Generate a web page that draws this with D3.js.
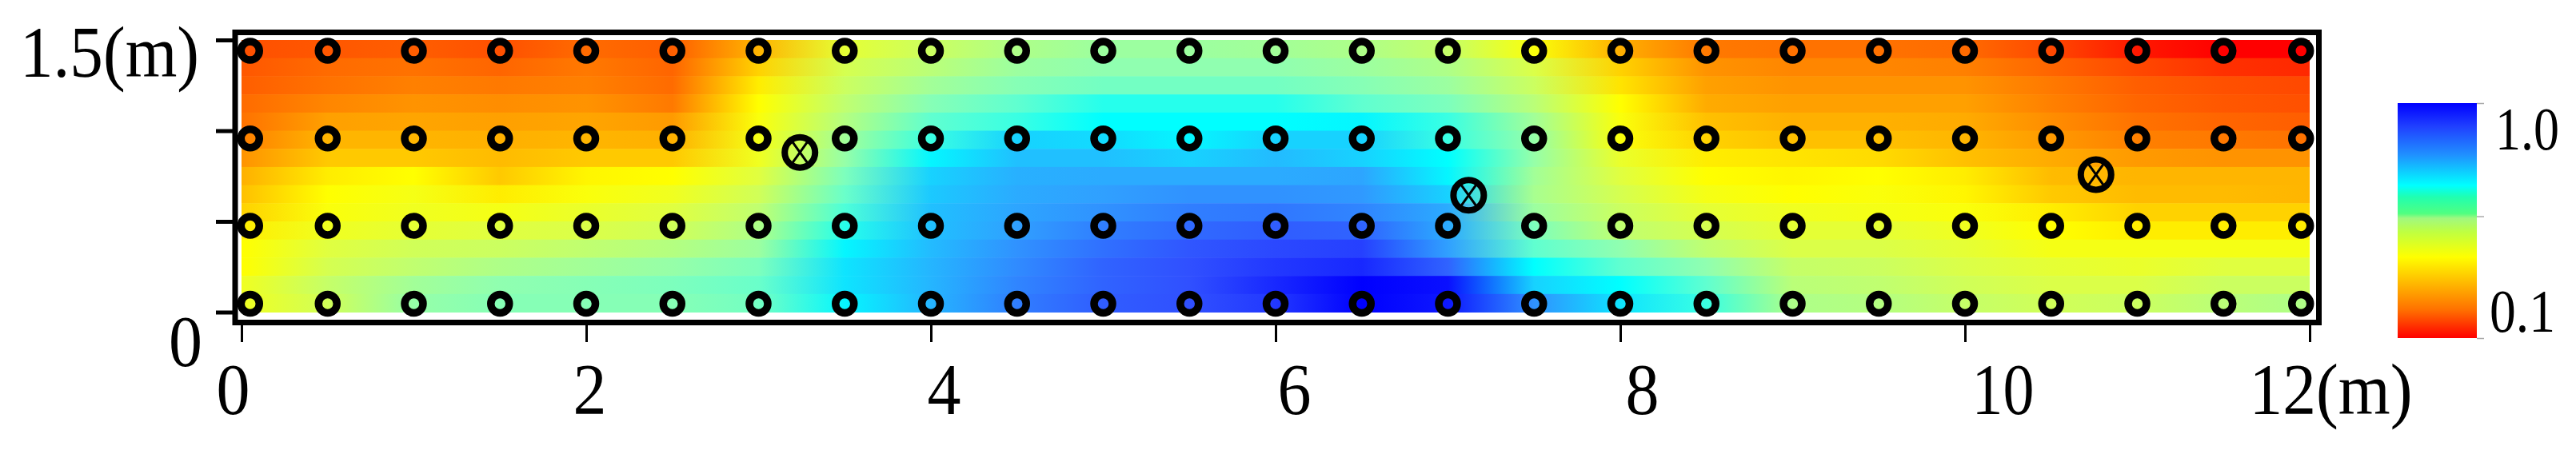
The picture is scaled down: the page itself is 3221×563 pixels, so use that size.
<!DOCTYPE html>
<html>
<head>
<meta charset="utf-8">
<script src="https://cdn.jsdelivr.net/npm/d3@7"></script>
<style>
  html, body { margin: 0; background: #fff; }
  svg { display: block; }
  text { font-family: "Liberation Serif", serif; fill: #000; }
</style>
</head>
<body>
<div id="chart"></div>
<script>
// metres along the section, one value per column of the table below
const colX = [0, 0.5, 1, 1.5, 2, 2.5, 3, 3.5, 4, 4.5, 5, 5.5, 6, 6.5, 7, 7.5, 8, 8.5, 9, 9.5, 10, 10.5, 11, 11.5, 12];
// upper edge of each band, metres
const rowTop = [1.5, 1.4, 1.3, 1.2, 1.1, 1.0, 0.9, 0.8, 0.7, 0.6, 0.5, 0.4, 0.3, 0.2, 0.1];

// position on the colour bar in percent, 0 = 0.1 (red), 100 = 1.0 (blue)
const r01 = [10, 11, 12, 10, 14, 12, 26, 40, 45, 50, 53, 53, 52, 50, 46, 36, 25, 16, 15, 15, 14, 9, 3, 0, 0];
const r02 = [11, 14, 15, 13, 16, 13, 30, 43, 48, 53, 55, 55, 55, 53, 50, 42, 30, 20, 18, 18, 17, 13, 9, 6, 5];
const r03 = [12, 15, 17, 16, 17, 14, 33, 45, 52, 56, 58, 58, 58, 56, 53, 45, 32, 22, 20, 20, 20, 16, 12, 10, 9];
const r04 = [14, 18, 20, 19, 20, 16, 35, 47, 56, 60, 63, 63, 63, 60, 57, 48, 35, 24, 22, 22, 22, 17, 13, 11, 10];
const r05 = [15, 22, 23, 22, 23, 21, 36, 49, 60, 62, 65, 65, 65, 66, 62, 52, 36, 28, 25, 25, 24, 19, 15, 13, 12];
const r06 = [17, 26, 26, 25, 26, 25, 37, 52, 62, 70, 69, 66, 70, 70, 62, 54, 36, 30, 28, 28, 26, 21, 17, 16, 15];
const r07 = [20, 29, 29, 27, 29, 29, 38, 54, 66, 72, 72, 70, 73, 70, 65, 54, 39, 33, 32, 31, 28, 24, 21, 20, 20];
const r08 = [25, 33, 35, 29, 34, 35, 41, 57, 70, 75, 76, 76, 76, 77, 66, 52, 41, 35, 34, 35, 33, 27, 26, 26, 26];
const r09 = [28, 35, 37, 33, 36, 38, 44, 59, 71, 76, 78, 80, 80, 79, 70, 51, 43, 37, 35, 36, 34, 29, 27, 27, 26];
const r10 = [30, 36, 38, 37, 39, 41, 47, 61, 72, 77, 80, 83, 84, 82, 76, 53, 45, 40, 38, 37, 36, 33, 30, 30, 30];
const r11 = [33, 38, 40, 41, 42, 44, 50, 63, 72, 78, 83, 86, 88, 87, 76, 57, 47, 43, 40, 40, 38, 35, 33, 33, 33];
const r12 = [35, 41, 44, 45, 47, 49, 53, 66, 73, 80, 85, 89, 91, 92, 78, 60, 55, 47, 42, 42, 40, 37, 37, 37, 37];
const r13 = [35, 43, 47, 50, 52, 54, 57, 68, 74, 81, 87, 90, 93, 95, 87, 65, 60, 55, 46, 45, 42, 40, 39, 41, 41];
const r14 = [38, 46, 52, 55, 56, 57, 59, 68, 74, 82, 87, 90, 95, 100, 98, 70, 65, 60, 48, 47, 44, 42, 42, 45, 45];
const r15 = [38, 44, 54, 56, 56, 56, 58, 66, 74, 83, 88, 90, 93, 100, 97, 80, 68, 62, 50, 49, 46, 44, 45, 48, 50];
const levels = [r01, r02, r03, r04, r05, r06, r07, r08, r09, r10, r11, r12, r13, r14, r15];

// sensor grid
const sensorX = [0.05, 0.5, 1, 1.5, 2, 2.5, 3, 3.5, 4, 4.5, 5, 5.5, 6, 6.5, 7, 7.5, 8, 8.5, 9, 9.5, 10, 10.5, 11, 11.5, 11.95];
const sensorY = [1.44, 0.957, 0.476, 0.046];
// crossed markers
const crossX = [3.24, 7.12, 10.76];
const crossY = [0.88, 0.644, 0.758];

const xTicks = [0, 2, 4, 6, 8, 10, 12];
const xTickLabels = ["0", "2", "4", "6", "8", "10", "12(m)"];
const yTicks = [0, 0.5, 1, 1.5];
const legendTicks = [0.1, 0.33, 1];

// heat map colours
const heatStops = [0, 10, 17, 22, 28, 35, 41, 47, 55, 60, 65, 72, 78, 85, 90, 100];
const heatColors = ["#ff0000", "#ff5000", "#ff8000", "#ffa000", "#ffc000", "#ffff00", "#e0ff40", "#c0ff70",
    "#90ffb0", "#60ffd0", "#00ffff", "#20c0ff", "#30a0ff", "#3070ff", "#3050ff", "#0000ff"];
// the colour bar has a greener middle than the map
const barStops = [0, 12, 22, 34.5, 45, 51, 53, 60, 65, 78, 90, 100];
const barColors = ["#ff0000", "#ff7000", "#ffb000", "#ffff00", "#c0ff40", "#a0f880", "#50ff80", "#20ffb0",
    "#00ffff", "#2090ff", "#2040ff", "#0000ff"];

const width = 3221, height = 563;

const x = d3.scaleLinear().domain([0, 12]).range([302, 2888]);
const y = d3.scaleLinear().domain([0, 1.5]).range([390.5, 50]);
const color = d3.scaleLinear().domain(heatStops).range(heatColors);
const barColor = d3.scaleLinear().domain(barStops).range(barColors);
const legendY = d3.scaleLog().domain([0.1, 1]).range([423, 129]);

const svg = d3.select("#chart").append("svg")
    .attr("width", width)
    .attr("height", height);
const defs = svg.append("defs");

// each band gets a left to right gradient through its readings
levels.forEach((row, i) => {
    defs.append("linearGradient")
        .attr("id", "row" + i)
        .attr("gradientUnits", "userSpaceOnUse")
        .attr("x1", x(0)).attr("x2", x(12))
        .attr("y1", 0).attr("y2", 0)
        .selectAll("stop")
        .data(row)
        .join("stop")
        .attr("offset", (d, j) => colX[j] / 12)
        .attr("stop-color", d => color(d));
});

svg.append("g").selectAll("rect")
    .data(rowTop)
    .join("rect")
    .attr("x", x(0))
    .attr("y", d => y(d))
    .attr("width", x(12) - x(0))
    .attr("height", d => y(d - 0.1) - y(d) + 0.5)
    .attr("fill", (d, i) => `url(#row${i})`);

// frame
svg.append("rect")
    .attr("x", 294).attr("y", 40.5)
    .attr("width", 2605.5).attr("height", 363)
    .attr("fill", "none")
    .attr("stroke", "#000")
    .attr("stroke-width", 7);

// axes
const xAxis = svg.append("g")
    .attr("transform", "translate(0,403)")
    .call(d3.axisBottom(x).tickValues(xTicks).tickSize(25).tickFormat((d, i) => xTickLabels[i]));
xAxis.select(".domain").remove();
xAxis.selectAll("line").attr("stroke", "#000").attr("stroke-width", 3);
const xLabelShift = [-11, 4, 16, 23, 27, 47, 17];
xAxis.selectAll("text")
    .attr("y", 115)
    .attr("dy", 0)
    .attr("dx", (d, i) => xLabelShift[i])
    .attr("textLength", 42)
    .attr("lengthAdjust", "spacingAndGlyphs")
    .style("font-size", "90px")
    .attr("text-anchor", "middle");
xAxis.selectAll("text").filter(d => d === 10).attr("textLength", 78);
xAxis.selectAll("text").filter(d => d === 12)
    .attr("text-anchor", "start")
    .attr("x", 0)
    .attr("dx", 2812 - x(12))
    .attr("textLength", 204);

const yAxis = svg.append("g")
    .attr("transform", "translate(293,0)")
    .call(d3.axisLeft(y).tickValues(yTicks).tickSize(23)
        .tickFormat(d => d === 1.5 ? "1.5(m)" : d === 0 ? "0" : ""));
yAxis.select(".domain").remove();
yAxis.selectAll("line").attr("stroke", "#000").attr("stroke-width", 5);
yAxis.selectAll("text")
    .style("font-size", "90px")
    .attr("text-anchor", "start")
    .attr("dy", 0);
yAxis.selectAll("text").filter(d => d === 1.5)
    .attr("x", 25 - 293).attr("y", 45)
    .attr("textLength", 224).attr("lengthAdjust", "spacingAndGlyphs");
yAxis.selectAll("text").filter(d => d === 0)
    .attr("x", 211 - 293).attr("y", 66.5)
    .attr("textLength", 42).attr("lengthAdjust", "spacingAndGlyphs");

// sensors
const sensors = sensorY.flatMap(sy => sensorX.map(sx => ({ x: sx, y: sy })));
svg.append("g").selectAll("circle")
    .data(sensors)
    .join("circle")
    .attr("cx", d => x(d.x))
    .attr("cy", d => y(d.y))
    .attr("r", 11.5)
    .attr("fill", "none")
    .attr("stroke", "#000")
    .attr("stroke-width", 9.5);

const crosses = svg.append("g").selectAll("g")
    .data(crossX)
    .join("g")
    .attr("transform", (d, i) => `translate(${x(d)},${y(crossY[i])})`);
crosses.append("circle")
    .attr("r", 19)
    .attr("fill", "none")
    .attr("stroke", "#000")
    .attr("stroke-width", 8);
crosses.append("path")
    .attr("d", "M-10,-14L10,14M10,-14L-10,14")
    .attr("stroke", "#000")
    .attr("stroke-width", 3);

// colour bar
const barGrad = defs.append("linearGradient")
    .attr("id", "bar")
    .attr("x1", 0).attr("x2", 0)
    .attr("y1", 1).attr("y2", 0);
barGrad.selectAll("stop")
    .data(barStops)
    .join("stop")
    .attr("offset", d => d / 100)
    .attr("stop-color", d => barColor(d));

svg.append("rect")
    .attr("x", 2998).attr("y", 129)
    .attr("width", 99).attr("height", 294)
    .attr("fill", "url(#bar)");

const legendAxis = svg.append("g")
    .attr("transform", "translate(3097,0)")
    .call(d3.axisRight(legendY).tickValues(legendTicks).tickSize(9).tickFormat(""));
legendAxis.select(".domain").remove();
legendAxis.selectAll("line").attr("stroke", "#aaa").attr("stroke-width", 1.5);

svg.append("text").attr("x", 3120).attr("y", 187).attr("textLength", 80).attr("lengthAdjust", "spacingAndGlyphs")
    .style("font-size", "77px").text("1.0");
svg.append("text").attr("x", 3113).attr("y", 415).attr("textLength", 82).attr("lengthAdjust", "spacingAndGlyphs")
    .style("font-size", "77px").text("0.1");
</script>
</body>
</html>
